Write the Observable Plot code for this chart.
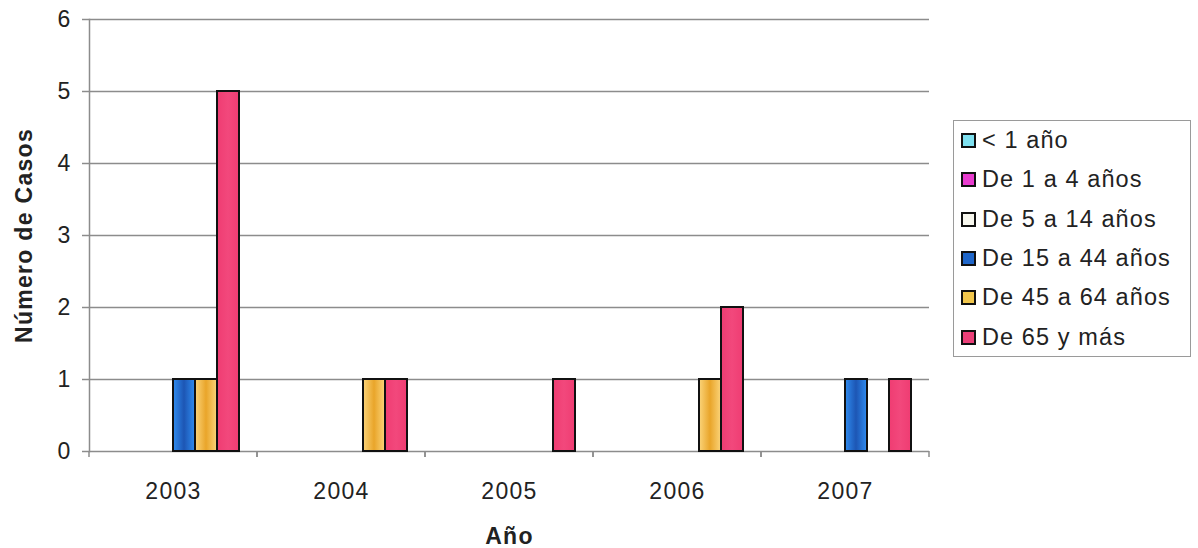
<!DOCTYPE html>
<html>
<head>
<meta charset="utf-8">
<script src="https://cdn.jsdelivr.net/npm/d3@7"></script>
<script src="https://cdn.jsdelivr.net/npm/@observablehq/plot@0.6"></script>
<style>
  body { margin: 0; background: #fff; font-family: "Liberation Sans", Arial, sans-serif; }
  #wrap { position: relative; width: 1198px; height: 548px; overflow: hidden; }
  #wrap svg text { letter-spacing: 1.3px; }
  #legend {
    position: absolute; left: 953px; top: 120px; width: 238px; height: 237px;
    box-sizing: border-box; border: 1.5px solid #9a9a9a; background: #fff;
  }
  .item { display: flex; align-items: center; height: 39.3px; padding-left: 7px;
    font-size: 23.5px; letter-spacing: 1.1px; color: #222; white-space: nowrap; }
  .sw { width: 15px; height: 15px; box-sizing: border-box; border: 2px solid #111; margin-right: 6px; flex: none; }
</style>
</head>
<body>
<div id="wrap"><div id="legend"></div></div>
<script>
// ---- data ----
const years = ["2003", "2004", "2005", "2006", "2007"];
const series = ["< 1 año", "De 1 a 4 años", "De 5 a 14 años", "De 15 a 44 años", "De 45 a 64 años", "De 65 y más"];
const menor1 = [0, 0, 0, 0, 0];
const de1a4 = [0, 0, 0, 0, 0];
const de5a14 = [0, 0, 0, 0, 0];
const de15a44 = [1, 0, 0, 0, 1];
const de45a64 = [1, 1, 0, 1, 0];
const de65ymas = [5, 1, 1, 2, 1];
const yTicks = [0, 1, 2, 3, 4, 5, 6];

// ---- styles ----
const swatchColors = ["#7ee0ef", "#e83ccf", "#f7f7ee", "#1f66c9", "#f1c64c", "#ea3f78"];
const barFills = ["#7ee0ef", "#e83ccf", "#f7f7ee", "url(#gBlue)", "url(#gOrange)", "url(#gPink)"];
const gridColor = "#8c8c8c";

const valuesBySeries = [menor1, de1a4, de5a14, de15a44, de45a64, de65ymas];
const data = [];
years.forEach((yr, i) => {
  series.forEach((s, j) => data.push({year: yr, series: s, value: valuesBySeries[j][i]}));
});

function boundaryTicks(index, scales, values, dims) {
  const {marginLeft, marginRight, marginBottom, width, height} = dims;
  const g = d3.create("svg:g").attr("stroke", gridColor).attr("stroke-width", 1.5);
  for (const x of [marginLeft, width - marginRight]) {
    g.append("line").attr("x1", x).attr("x2", x)
      .attr("y1", height - marginBottom).attr("y2", height - marginBottom + 6);
  }
  return g.node();
}

const chart = Plot.plot({
  width: 1198,
  height: 548,
  marginLeft: 88,
  marginRight: 268,
  marginTop: 19,
  marginBottom: 97,
  style: {fontFamily: "'Liberation Sans', Arial, sans-serif", fontSize: "23px", color: "#222", background: "transparent", overflow: "visible"},
  fx: {domain: years, padding: 0},
  x: {domain: series, paddingInner: 0, paddingOuter: 0.665, axis: null},
  y: {domain: [0, 6]},
  color: {domain: series, range: barFills},
  marks: [
    Plot.gridY(yTicks, {stroke: gridColor, strokeOpacity: 1, strokeWidth: 1.5}),
    Plot.frame({anchor: "left", facetAnchor: "left", stroke: gridColor, strokeWidth: 1.5}),
    boundaryTicks,
    Plot.axisY(yTicks, {tickSize: 7, tickPadding: 11, tickFormat: d3.format("d"), stroke: gridColor, strokeWidth: 1.5,
      label: "Número de Casos", labelAnchor: "center", labelOffset: 74, labelArrow: "none"}),
    Plot.axisFx({anchor: "bottom", tickSize: 0, tickPadding: 31, label: "Año", labelAnchor: "center",
      labelOffset: 92, labelArrow: "none"}),
    Plot.barY(data.filter(d => d.value > 0), {fx: "year", x: "series", y: "value", fill: "series",
      stroke: "#111", strokeWidth: 2})
  ]
});

// gradients for bar shading
const defs = d3.select(chart).insert("defs", ":first-child");
function grad(id, edge, center) {
  const lg = defs.append("linearGradient").attr("id", id).attr("x1", 0).attr("x2", 1).attr("y1", 0).attr("y2", 0);
  lg.append("stop").attr("offset", "0%").attr("stop-color", edge);
  lg.append("stop").attr("offset", "50%").attr("stop-color", center);
  lg.append("stop").attr("offset", "100%").attr("stop-color", edge);
}
grad("gBlue", "#2f8cf0", "#1d56b4");
grad("gOrange", "#fbd47a", "#e9a52a");
grad("gPink", "#ef3c72", "#f2487c");

d3.select(chart).selectAll('g[aria-label="y-axis label"] text, g[aria-label="fx-axis label"] text')
  .attr("font-weight", "bold");

document.getElementById("wrap").prepend(chart);

// legend
const legend = d3.select("#legend");
series.forEach((s, j) => {
  const row = legend.append("div").attr("class", "item");
  row.append("div").attr("class", "sw").style("background", swatchColors[j]);
  row.append("span").text(s);
});
</script>
</body>
</html>
